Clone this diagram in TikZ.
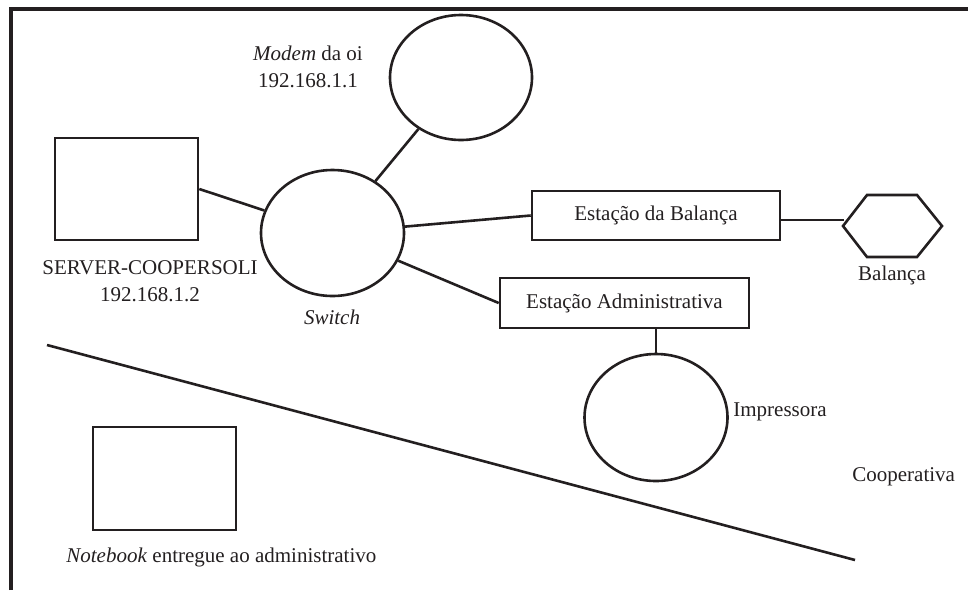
\documentclass[tikz,border=0pt]{standalone}
\usepackage{fontspec}
\setmainfont{Liberation Serif}
\usetikzlibrary{shapes.geometric}
\definecolor{ink}{RGB}{35,31,32}
\begin{document}
\begin{tikzpicture}[x=0.5pt,y=0.5pt,yscale=-1,xscale=1,
  every node/.style={font=\fontsize{10.5}{13.5}\selectfont,text=ink},
  hostbox/.style={draw=ink,line width=1.3pt,inner sep=0pt},
  hostoval/.style={draw=ink,ellipse,line width=1.3pt,inner sep=0pt},
  wire/.style={draw=ink,line width=1.3pt}]
\useasboundingbox (0,0) rectangle (968,590);
% moldura
\draw [ink,line width=1.6pt] (11,590) -- (11,9) -- (968,9);
% equipamentos
\node (server) [hostbox,minimum width=71.5pt,minimum height=51pt] at (126.5,189) {};
\node (notebook) [hostbox,minimum width=71.5pt,minimum height=51.5pt] at (164.5,478.5) {};
\node (modem) [hostoval,minimum width=71pt,minimum height=62.5pt] at (461,77.5) {};
\node (switch) [hostoval,minimum width=71.5pt,minimum height=63pt] at (332.5,233) {};
\node (printer) [hostoval,minimum width=71.5pt,minimum height=63.5pt] at (656,417.5) {};
\node (balanca) [hostbox,minimum width=124pt,minimum height=24.5pt] at (656,215.5) {Estação da Balança};
\node (admin) [hostbox,minimum width=124.5pt,minimum height=25pt] at (624.5,303) {Estação Administrativa};
% balanca (hexagono)
\coordinate (hexL) at (843,226);
\coordinate (hexin) at (844,220);
\draw [wire] (hexL) -- (867,195) -- (917,195) -- (942,226) -- (917,257) -- (867,257) -- cycle;
% ligacoes
\draw [wire] (server.east) -- (switch);
\draw [wire] (switch) -- (modem);
\draw [wire] (switch) -- (balanca.west);
\draw [wire] (switch) -- (admin.west);
\draw [wire] (balanca.east |- hexin) -- (hexin);
\draw [wire] (printer.north |- admin.south) -- (printer.north);
% divisao
\draw [wire] (47,345) -- (855,560);
% rotulos
\node (modemlbl) [align=center] at (308,67) {\textit{Modem} da oi\\192.168.1.1};
\node (serverlbl) [align=center] at (150,281) {SERVER-COOPERSOLI\\192.168.1.2};
\node (switchlbl) at (332,317) {\textit{Switch}};
\node (balancalbl) at (892,275) {Balança};
\node (printerlbl) [anchor=west,inner sep=0pt] at (733,412) {Impressora};
\node (coopLbl) [anchor=west,inner sep=0pt] at (852,477) {Cooperativa};
\node (notebooklbl) [anchor=west,inner sep=0pt] at (66,557) {\textit{Notebook} entregue ao administrativo};
\end{tikzpicture}
\end{document}
